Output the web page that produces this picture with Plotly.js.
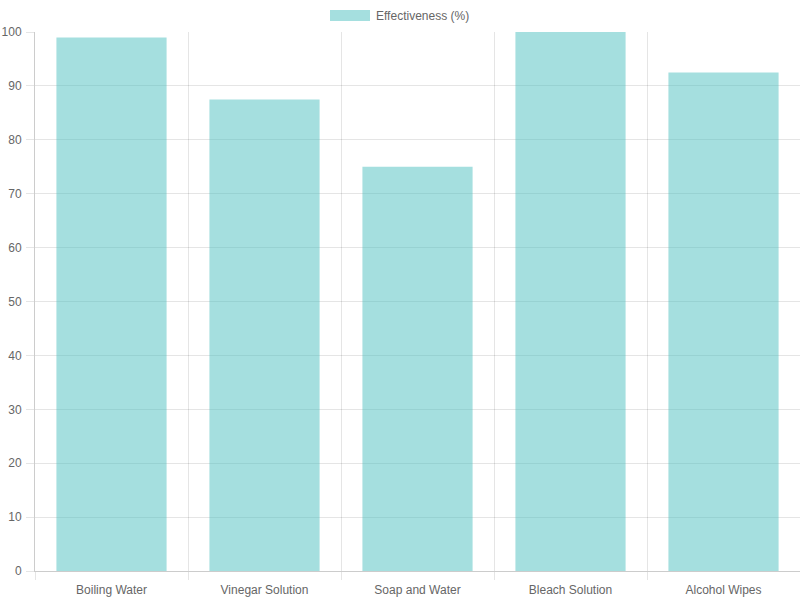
<!DOCTYPE html>
<html>
<head>
<meta charset="utf-8">
<script src="https://cdn.plot.ly/plotly-3.0.1.min.js"></script>
<style>
  html, body { margin: 0; padding: 0; background: #fff; }
  #chart { width: 800px; height: 600px; }
</style>
</head>
<body>
<div id="chart"></div>
<script>
// cleaning methods and how well they worked
const methods = ["Boiling Water", "Vinegar Solution", "Soap and Water", "Bleach Solution", "Alcohol Wipes"];
const effectiveness = [99, 87.5, 75, 100, 92.5];
const seriesName = "Effectiveness (%)";

const FILL = "rgba(75,192,192,0.5)";
const GRID = "rgba(0,0,0,0.1)";
const TEXT = "#666";

const trace = {
  type: "bar",
  name: seriesName,
  x: methods,
  y: effectiveness,
  marker: { color: FILL, line: { width: 0 } },
  hoverinfo: "x+y",
};

// plot area is 765 x 539 px; the legend sits above it
const plotW = 765, plotH = 539;
const px = (v) => v / plotW;
const py = (v) => v / plotH;

const layout = {
  width: 800,
  height: 600,
  paper_bgcolor: "#fff",
  plot_bgcolor: "#fff",
  font: { family: "Liberation Sans, Arial, sans-serif", size: 12, color: TEXT },
  margin: { l: 35, r: 0, t: 32, b: 29, pad: 0 },
  showlegend: false,
  bargap: 0.28,
  xaxis: {
    type: "category",
    tickson: "boundaries",
    ticks: "outside",
    ticklen: 8,
    tickcolor: GRID,
    ticklabelstandoff: 8,
    showgrid: true,
    gridcolor: GRID,
    showline: true,
    linecolor: "rgba(0,0,0,0.2)",
    tickfont: { size: 12, color: TEXT },
  },
  yaxis: {
    range: [0, 100],
    dtick: 10,
    ticks: "outside",
    ticklen: 8,
    tickcolor: GRID,
    ticklabelstandoff: 2,
    showgrid: true,
    gridcolor: GRID,
    zeroline: false,
    showline: true,
    linecolor: "rgba(0,0,0,0.2)",
    tickfont: { size: 12, color: TEXT },
  },
  shapes: [
    {
      type: "rect",
      xref: "paper", yref: "paper",
      x0: px(295), x1: px(335),
      y0: 1 + py(11), y1: 1 + py(22),
      fillcolor: FILL,
      line: { width: 0 },
    },
  ],
  annotations: [
    {
      xref: "paper", yref: "paper",
      x: px(339), y: 1 + py(16.5),
      xanchor: "left", yanchor: "middle",
      text: seriesName,
      showarrow: false,
      font: { size: 12, color: TEXT },
    },
  ],
};

Plotly.newPlot("chart", [trace], layout, { displayModeBar: false, staticPlot: true });
</script>
</body>
</html>
